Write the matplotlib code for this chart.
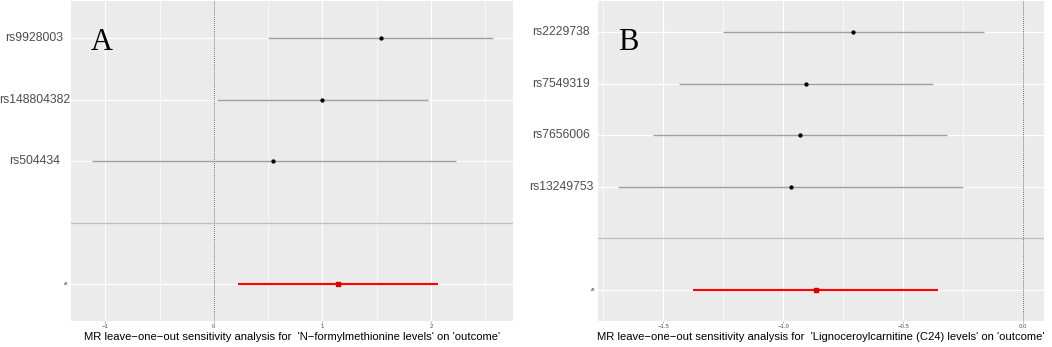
import numpy as np
import matplotlib
matplotlib.use('Agg')
import matplotlib.pyplot as plt
from matplotlib.ticker import MultipleLocator
import matplotlib.transforms as mtransforms

plt.rcParams['font.family'] = ['Liberation Sans', 'DejaVu Sans']

# Panel A: N-formylmethionine levels
snps_a = ['rs9928003', 'rs148804382', 'rs504434']
b_a = [1.536, 0.998, 0.547]
lo_a = [0.501, 0.026, -1.125]
hi_a = [2.573, 1.974, 2.226]
all_a = (1.146, 0.219, 2.066)
expo_a = 'N\u2212formylmethionine levels'
ticks_a = [-1, 0, 1, 2]
ticklab_a = ['\u22121', '0', '1', '2']

# Panel B: Lignoceroylcarnitine (C24) levels
snps_b = ['rs2229738', 'rs7549319', 'rs7656006', 'rs13249753']
b_b = [-0.709, -0.906, -0.932, -0.970]
lo_b = [-1.250, -1.437, -1.545, -1.688]
hi_b = [-0.164, -0.375, -0.318, -0.253]
all_b = (-0.865, -1.376, -0.356)
expo_b = 'Lignoceroylcarnitine (C24) levels'
ticks_b = [-1.5, -1.0, -0.5, 0.0]
ticklab_b = ['\u22121.5', '\u22121.0', '\u22120.5', '0.0']

BG = '#EBEBEB'
TXT = '#4D4D4D'


def loo_panel(ax, snps, b, lo, hi, allres, expo, xlim, ticks, ticklabs, minor, letter):
    n = len(snps)
    # All at bottom, blank separator row, then the SNPs
    ypos = np.arange(n, 0, -1) + 2
    ax.set_facecolor(BG)
    ax.set_xlim(*xlim)
    ax.set_ylim(0.4, n + 2.6)
    ax.set_xticks(ticks)
    ax.set_xticklabels(ticklabs)
    ax.xaxis.set_minor_locator(MultipleLocator(minor))
    ax.set_yticks(list(ypos) + [1])
    ax.set_yticklabels([])
    ax.grid(which='major', color='white', lw=0.85, zorder=0)
    ax.grid(which='minor', axis='x', color='white', lw=0.45, zorder=0)
    ax.set_axisbelow(True)
    for s in ax.spines.values():
        s.set_visible(False)
    ax.tick_params(axis='x', which='major', labelsize=4.3, labelcolor=TXT,
                   length=1.5, width=0.4, color='#777777', pad=0.8)
    ax.tick_params(axis='y', length=0)
    ax.tick_params(which='minor', length=0)

    ax.axvline(0, color='#666666', lw=0.7, ls=(0, (1, 1)), zorder=1)
    ax.axhline(2, color='#BEBEBE', lw=0.9, zorder=1)
    ax.hlines(ypos, lo, hi, color='#A0A0A0', lw=1.0, zorder=2)
    ax.plot(b, ypos, 'o', color='black', ms=2.1, zorder=3)
    ax.hlines(1, allres[1], allres[2], color='#FF0000', lw=1.5, zorder=2)
    ax.plot(allres[0], 1, 's', color='#D80000', ms=2.4, zorder=3)

    trans = mtransforms.blended_transform_factory(ax.transAxes, ax.transData)
    for lab, y in zip(snps, ypos):
        ax.text(-0.083, y, lab, transform=trans, ha='center', va='center',
                fontsize=8.8, color=TXT)
    ax.text(-0.006, 1, 'All', transform=trans, ha='right', va='center',
            fontsize=2.8, color=TXT)

    ax.set_xlabel("MR leave\u2212one\u2212out sensitivity analysis for  '" + expo + "' on 'outcome'",
                  fontsize=8.15, color='black', labelpad=2.0)
    ax.text(0.045, 0.847, letter, transform=ax.transAxes, fontsize=22,
            family='Liberation Serif', ha='left', va='baseline', color='black')


fig = plt.figure(figsize=(10.52, 3.47), dpi=100)
ax_a = fig.add_axes([0.0675, 0.0752, 0.4204, 0.9205])
ax_b = fig.add_axes([0.5684, 0.0752, 0.4240, 0.9205])

loo_panel(ax_a, snps_a, b_a, lo_a, hi_a, all_a, expo_a,
          (-1.316, 2.757), ticks_a, ticklab_a, 0.5, 'A')
loo_panel(ax_b, snps_b, b_b, lo_b, hi_b, all_b, expo_b,
          (-1.773, 0.086), ticks_b, ticklab_b, 0.25, 'B')

fig.savefig('out.png', dpi=100)
